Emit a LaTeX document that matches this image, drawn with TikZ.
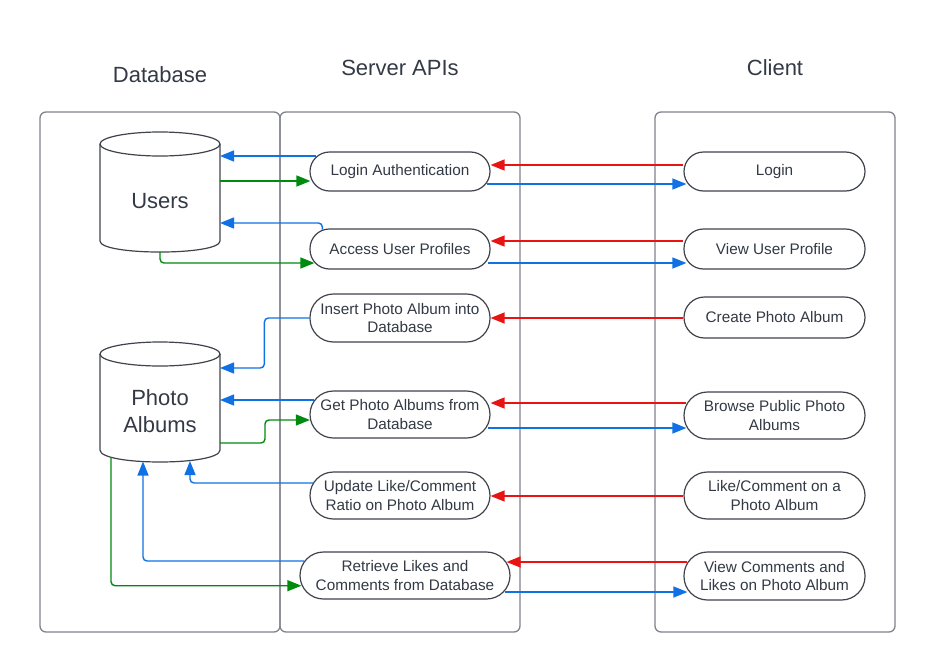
\documentclass[tikz,border=0pt]{standalone}
\usepackage{fontspec}
\setmainfont{Liberation Sans}
\usetikzlibrary{arrows.meta,calc}
\definecolor{txt}{HTML}{333A45}
\definecolor{panec}{HTML}{80838A}
\definecolor{pillc}{HTML}{3F434B}
\definecolor{bl}{HTML}{1071E5}
\definecolor{rd}{HTML}{E81313}
\definecolor{gn}{HTML}{008A0E}
\begin{document}
\begin{tikzpicture}[x=1pt,y=-1pt,
 every node/.style={text=txt},
 panes/.style={draw=panec, line width=1.3pt, rounded corners=6pt},
 pillA/.style={draw=pillc, line width=1.2pt, fill=white, rounded corners=19.5pt, minimum height=39pt, minimum width=180pt, inner sep=0pt, align=center, font=\fontsize{15.3}{18.5}\selectfont},
 pillB/.style={pillA, rounded corners=23.5pt, minimum height=47pt},
 head/.style={font=\fontsize{22}{26}\selectfont},
 cyltext/.style={font=\fontsize{22}{26.5}\selectfont, align=center, inner sep=0pt},
 cyl/.style={draw=pillc, line width=1.2pt},
 conn/.style={line width=1.4pt, -{Triangle[length=14pt,width=11pt]}, rounded corners=4pt},
 blu/.style={conn, draw=bl},
 red/.style={conn, draw=rd},
 grn/.style={conn, draw=gn}
]
\useasboundingbox (0,0) rectangle (935,672);

% panels
\draw[panes] (40,112) rectangle (280,632);
\draw[panes] (280,112) rectangle (520,632);
\draw[panes] (655,112) rectangle (895,632);

% headers
\node[head] (hdb) at (160,75) {Database};
\node[head] (hsv) at (400,68) {Server APIs};
\node[head] (hcl) at (775,68) {Client};

% cylinders
\draw[cyl] (160,144) ellipse [x radius=60, y radius=12];
\draw[cyl] (100,144) -- (100,241) .. controls (100,255.7) and (220,255.7) .. (220,241) -- (220,144);
\draw[cyl] (160,354) ellipse [x radius=60, y radius=12];
\draw[cyl] (100,354) -- (100,450) .. controls (100,466) and (220,466) .. (220,450) -- (220,354);
\node[cyltext] (users) at (160,201) {Users};
\node[cyltext] (palb) at (160,411) {Photo\\Albums};

% server nodes
\node[pillA] (la) at (400,171.5) {Login Authentication};
\node[pillA, minimum height=40pt] (ap) at (400,249) {Access User Profiles};
\node[pillB, minimum height=48pt] (ins) at (400,318) {Insert Photo Album into\\Database};
\node[pillB] (get) at (400,414.5) {Get Photo Albums from\\Database};
\node[pillB] (upd) at (400,495.5) {Update Like/Comment\\Ratio on Photo Album};
\node[pillB, minimum width=210pt] (ret) at (405,575.5) {Retrieve Likes and\\Comments from Database};

% client nodes
\node[pillA, minimum width=181pt] (lg) at (774.5,171.5) {Login};
\node[pillA, minimum width=181pt, minimum height=40pt] (vp) at (774.5,249) {View User Profile};
\node[pillA, minimum width=181pt, minimum height=41pt, rounded corners=20.5pt] (cr) at (774.5,317.5) {Create Photo Album};
\node[pillB, minimum width=181pt] (br) at (774.5,415.5) {Browse Public Photo\\Albums};
\node[pillB, minimum width=181pt] (lc) at (774.5,495.5) {Like/Comment on a\\Photo Album};
\node[pillB, minimum width=181pt, minimum height=48pt] (vc) at (774.5,576) {View Comments and\\Likes on Photo Album};

% client -> server (red)
\draw[red] ($(lg.west)+(0,-6.5)$) -- ($(la.east)+(0,-6.5)$);
\draw[red] ($(vp.west)+(0,-8)$) -- ($(ap.east)+(0,-8)$);
\draw[red] ($(cr.west)+(0,0.5)$) -- (ins.east);
\draw[red] ($(br.west)+(3,-12.5)$) -- ($(get.east)+(0,-11.5)$);
\draw[red] ($(lc.west)+(0,0.5)$) -- ($(upd.east)+(0,0.5)$);
\draw[red] ($(vc.west)+(4,-14)$) -- ($(ret.east)+(-4,-13.5)$);

% server -> client (blue)
\draw[blu] ($(la.east)+(-4,12.5)$) -- ($(lg.west)+(3,12.5)$);
\draw[blu] ($(ap.east)+(-3,14)$) -- ($(vp.west)+(3,14)$);
\draw[blu] ($(get.east)+(-3,13.5)$) -- ($(br.west)+(3,12.5)$);
\draw[blu] ($(ret.east)+(-6,16.5)$) -- ($(vc.west)+(4,16)$);

% server -> database (blue)
\draw[blu] ($(la.west)+(7,-15.5)$) -- ($(users)+(60,-45)$);
\draw[blu] ($(ap.north west)+(13,1.3)$) |- ($(users)+(60,22)$);
\draw[blu] (ins.west) -- ($(ins.west)+(-45,0)$) |- ($(palb)+(60,-43)$);
\draw[blu] ($(get.west)+(5,-14.5)$) -- ($(palb)+(60,-11)$);
\draw[blu] ($(upd.west)+(3.6,-12.5)$) -| ($(palb)+(30,50)$);
\draw[blu] ($(ret.west)+(5,-14.5)$) -| ($(palb)+(-17,50.5)$);

% database -> server (green)
\draw[grn] ($(users)+(60,-20)$) -- ($(la.west)+(1,9.5)$);
\draw[grn] ($(users)+(0,51)$) |- ($(ap.west)+(5,14)$);
\draw[grn] ($(palb)+(60,32)$) -- ($(palb)+(105,32)$) |- ($(get.west)+(0.5,5.5)$);
\draw[grn] ($(palb)+(-49,46)$) |- ($(ret.west)+(2,10.2)$);
\end{tikzpicture}
\end{document}
